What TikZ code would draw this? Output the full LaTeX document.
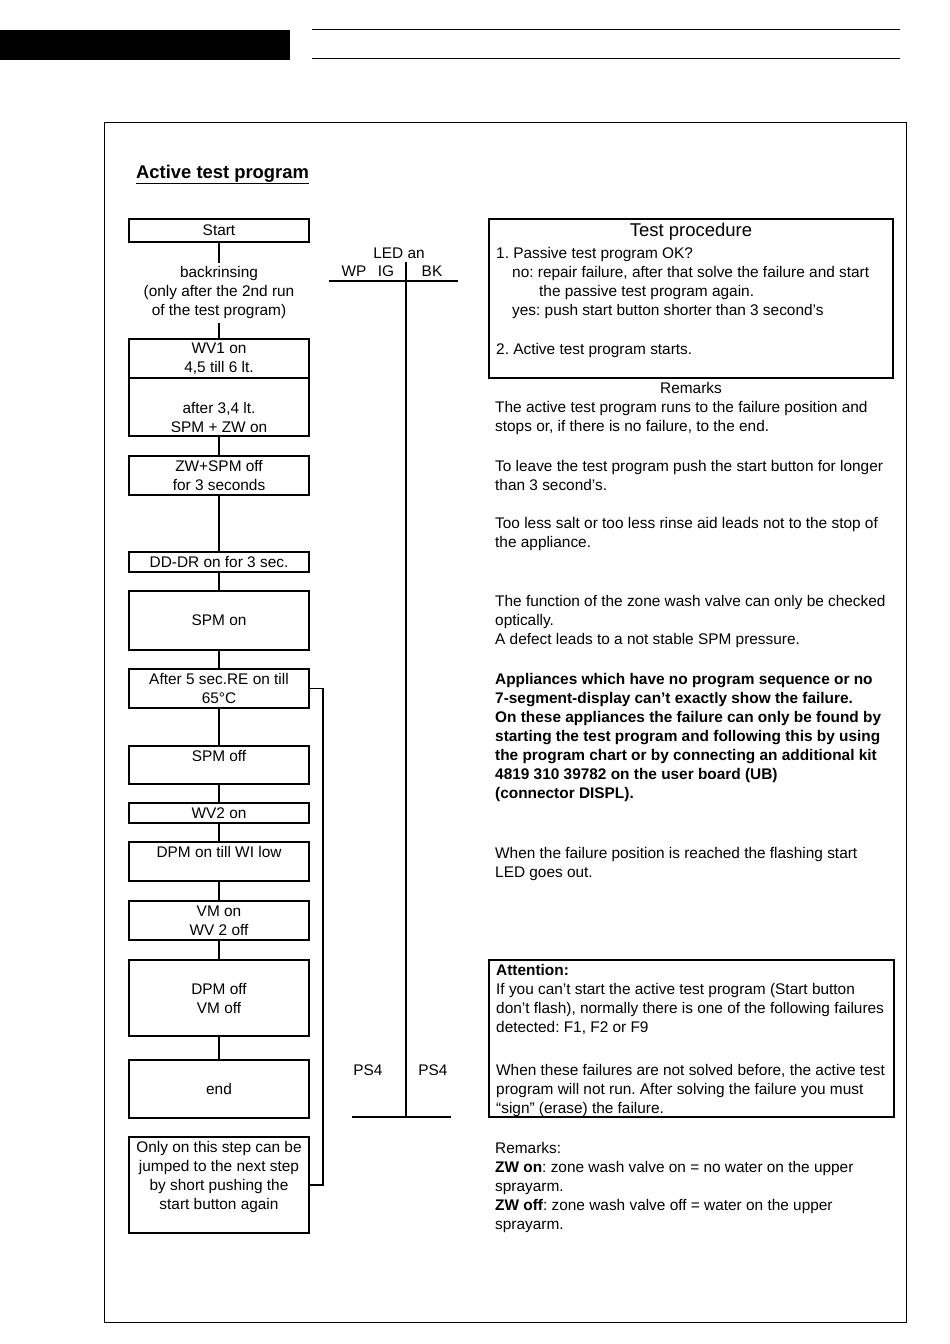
\documentclass[tikz,border=0pt]{standalone}
\usepackage{fontspec}
\setmainfont{Liberation Sans}
\frenchspacing
\usetikzlibrary{positioning}
\tikzstyle{box} = [
    rectangle,
    draw=black,
    line width=1.3pt,
    minimum width=180pt,
    inner sep=0pt,
    outer sep=0pt,
    align=center,
    font=\fontsize{15.4}{19}\selectfont
]
\tikzstyle{frame} = [
    rectangle,
    draw=black,
    line width=1.3pt,
    inner sep=0pt,
    outer sep=0pt
]
\tikzstyle{ledtext} = [
    inner sep=0pt,
    font=\fontsize{15.4}{19}\selectfont
]
\tikzstyle{para} = [
    anchor=base west,
    inner sep=0pt,
    align=left,
    font=\fontsize{15.4}{19}\selectfont
]
\tikzstyle{link} = [
    line width=1.3pt
]

\begin{document}
\begin{tikzpicture}[x=1pt, y=-1pt]
    \useasboundingbox (0,0) rectangle (950,1344);

    % Header and page frame
    \fill[black] (0,30) rectangle (290,60);
    \draw[line width=1pt] (312,29) -- (900,29);
    \draw[line width=1pt] (312,58) -- (900,58);
    \draw[line width=0.9pt] (104,122) rectangle (906,1322);

    \node (title) [anchor=base west, inner sep=0pt, font=\bfseries\fontsize{18.4}{22}\selectfont] at (136,178) {\underline{Active test program}};

    % Flow of steps
    \node (start) [box, minimum height=23pt] at (219,230.5) {Start};
    \node (back) [ledtext, inner sep=4pt, align=center] at (219,293) {backrinsing\\(only after the 2nd run\\of the test program)};
    \node (wv1) [box, minimum height=39pt] at (219,358.5) {WV1 on\\4,5 till 6 lt.};
    \node (fill) [box, minimum height=58pt, below=0pt of wv1] {\rule{0pt}{32pt}after 3,4 lt.\\SPM + ZW on};
    \node (zwoff) [box, minimum height=39pt] at (219,475.5) {ZW+SPM off\\for 3 seconds};
    \node (dddr) [box, minimum height=20pt] at (219,562) {DD-DR on for 3 sec.};
    \node (spmon) [box, minimum height=59pt] at (219,620.5) {SPM on};
    \node (reon) [box, minimum height=39pt] at (219,688.5) {After 5 sec.RE on till\\65°C};
    \node (spmoff) [box, minimum height=38pt] at (219,765) {SPM off\\~};
    \node (wv2) [box, minimum height=20pt] at (219,813) {WV2 on};
    \node (dpmon) [box, minimum height=39pt] at (219,861.5) {DPM on till WI low\\~};
    \node (vmon) [box, minimum height=39pt] at (219,920.5) {VM on\\WV 2 off};
    \node (dpmoff) [box, minimum height=76pt] at (219,998) {DPM off\\VM off};
    \node (stop) [box, minimum height=58pt] at (219,1089) {end};
    \node (jump) [box, minimum height=96pt] at (219,1185) {Only on this step can be\\jumped to the next step\\by short pushing the\\start button again\\~};

    % Connectors
    \draw [link] (start) -- (back);
    \draw [link] (back) -- (wv1);
    \draw [link] (fill) -- (zwoff);
    \draw [link] (zwoff) -- (dddr);
    \draw [link] (dddr) -- (spmon);
    \draw [link] (spmon) -- (reon);
    \draw [link] (reon) -- (spmoff);
    \draw [link] (spmoff) -- (wv2);
    \draw [link] (wv2) -- (dpmon);
    \draw [link] (dpmon) -- (vmon);
    \draw [link] (vmon) -- (dpmoff);
    \draw [link] (dpmoff) -- (stop);
    \draw [link] (reon.east) -- ++(14,0) |- (jump.east);

    % LED table
    \node (led) [ledtext] at (399,253) {LED an};
    \node (wp) [ledtext] at (354,271) {WP};
    \node (ig) [ledtext] at (386,271) {IG};
    \node (bk) [ledtext] at (432,271) {BK};
    \node (pswp) [ledtext] at (368,1070) {PS4};
    \node (psbk) [ledtext] at (433,1070) {PS4};
    \coordinate (ledtop) at (406,262);
    \coordinate (ledbot) at (406,1117);
    \draw [link] (329,281) -- (458,281);
    \draw [link] (ledtop) -- (ledbot);
    \draw [link] (352,1117) -- (451,1117);

    % Test procedure
    \node (proc) [frame, minimum width=404pt, minimum height=159pt] at (691,298.5) {};
    \node (proctitle) [ledtext, font=\fontsize{18.5}{22}\selectfont] at (691,232) {Test procedure};
    \node (stepa) [para] at (496,258) {1. Passive test program OK?};
    \node (stepno) [para] at (512,277) {no: repair failure, after that solve the failure and start};
    \node (stepagain) [para] at (539,296) {the passive test program again.};
    \node (stepyes) [para] at (512,315) {yes: push start button shorter than 3 second's};
    \node (stepb) [para] at (496,354) {2. Active test program starts.};

    % Remarks
    \node (remarks) [ledtext] at (691,388) {Remarks};
    \node (rema) [para] at (495,431) {The active test program runs to the failure position and\\stops or, if there is no failure, to the end.};
    \node (remb) [para] at (495,490) {To leave the test program push the start button for longer\\than 3 second's.};
    \node (remc) [para] at (495,547) {Too less salt or too less rinse aid leads not to the stop of\\the appliance.};
    \node (remd) [para] at (495,644) {The function of the zone wash valve can only be checked\\optically.\\A defect leads to a not stable SPM pressure.};
    \node (reme) [para, font=\bfseries\fontsize{15.4}{19}\selectfont] at (495,798) {Appliances which have no program sequence or no\\7-segment-display can't exactly show the failure.\\On these appliances the failure can only be found by\\starting the test program and following this by using\\the program chart or by connecting an additional kit\\4819 310 39782 on the user board (UB)\\(connector DISPL).};
    \node (remf) [para] at (495,877) {When the failure position is reached the flashing start\\LED goes out.};

    % Attention
    \node (attn) [frame, minimum width=405pt, minimum height=157pt] at (691.5,1038.5) {};
    \node (attna) [para] at (496,1032) {\textbf{Attention:}\\If you can't start the active test program (Start button\\don't flash), normally there is one of the following failures\\detected: F1, F2 or F9};
    \node (attnb) [para] at (496,1113) {When these failures are not solved before, the active test\\program will not run. After solving the failure you must\\“sign” (erase) the failure.};

    % Remarks on ZW
    \node (zwrem) [para] at (495,1229) {Remarks:\\\textbf{ZW on}: zone wash valve on = no water on the upper\\sprayarm.\\\textbf{ZW off}: zone wash valve off = water on the upper\\sprayarm.};

\end{tikzpicture}
\end{document}
